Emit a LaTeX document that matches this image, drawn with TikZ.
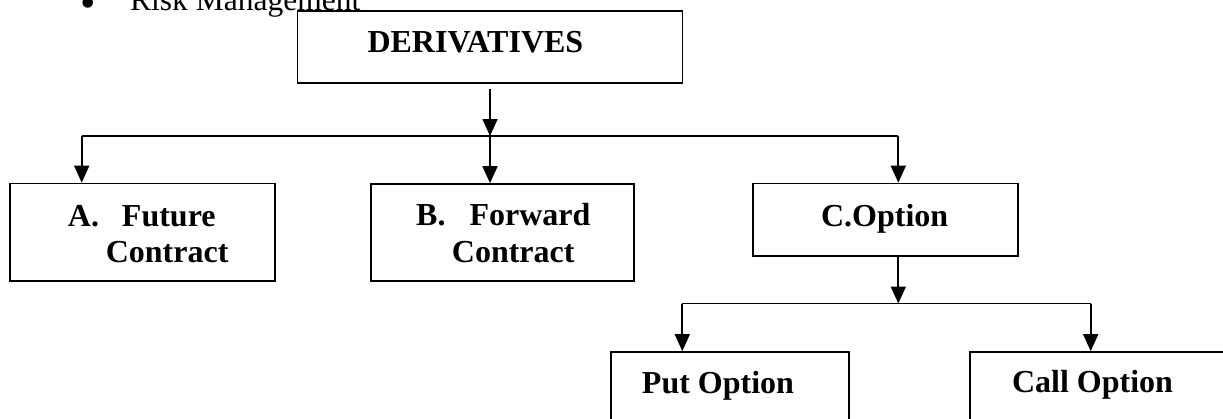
\documentclass[tikz,border=0pt]{standalone}
\usepackage{fontspec}
\setmainfont{Liberation Serif}
\usetikzlibrary{arrows.meta}

\begin{document}
\begin{tikzpicture}[x=1pt,y=-1pt,
  box/.style={draw, line width=1.7pt, inner sep=0pt},
  lbl/.style={inner sep=0pt, font=\fontsize{32}{36}\selectfont\bfseries},
  txt/.style={inner sep=0pt, font=\fontsize{31.5}{36}\selectfont},
  conn/.style={line width=1.7pt},
  arr/.style={conn, -{Triangle[length=17pt,width=15pt]}},
]
\useasboundingbox (0,0) rectangle (1223,418);
\clip (0,0) rectangle (1223,418);

% preceding bullet line of the page
\node[inner sep=0pt, font=\fontsize{44}{44}\selectfont, anchor=base] (bul) at (88,17) {•};
\node[txt, anchor=base west] (risk) at (130,10) {Risk Management};

% boxes
\node[box, minimum width=385pt, minimum height=71.7pt] (D) at (490,46.85) {};
\node[box, minimum width=265pt, minimum height=97.5pt] (A) at (142.5,232.25) {};
\node[box, minimum width=263.3pt, minimum height=97pt] (B) at (502.35,232.5) {};
\node[box, minimum width=265pt, minimum height=72.5pt] (C) at (885.8,219.75) {};
\node[box, minimum width=238.6pt, minimum height=90pt] (P) at (730,397) {};
\node[box, minimum width=290pt, minimum height=90pt] (K) at (1115,397) {};

% labels
\node[lbl, anchor=base west] (tD) at (367.3,52.7) {DERIVATIVES};
\node[lbl, anchor=base west] (tA1) at (67.7,226) {A.\hspace{23pt}Future};
\node[lbl, anchor=base west] (tA2) at (105.6,262) {Contract};
\node[lbl, anchor=base west] (tB1) at (416,225) {B.\hspace{24pt}Forward};
\node[lbl, anchor=base west] (tB2) at (451.7,262) {Contract};
\node[lbl, anchor=base] (tC) at (884.7,226) {C.Option};
\node[lbl, anchor=base] (tP) at (718,393) {Put Option};
\node[lbl, anchor=base] (tK) at (1092.5,392) {Call Option};

% first level bus
\coordinate (j1) at (490,136);
\coordinate (ja) at (81.7,136);
\coordinate (jc) at (898.3,136);
\draw[arr] ([yshift=-5pt]D.south) -- (j1);
\draw[conn] (ja) -- (jc);
\draw[arr] (ja) -- (ja |- A.north);
\draw[arr] (j1) -- (j1 |- B.north);
\draw[arr] (jc) -- (jc |- C.north);

% second level bus
\coordinate (j2) at (898.3,303.5);
\coordinate (jp) at (682.3,303.5);
\coordinate (jk) at (1090.7,303.5);
\draw[arr] (j2 |- C.south) -- (j2);
\draw[conn] (jp) -- (jk);
\draw[arr] (jp) -- (jp |- P.north);
\draw[arr] (jk) -- (jk |- K.north);
\end{tikzpicture}
\end{document}
